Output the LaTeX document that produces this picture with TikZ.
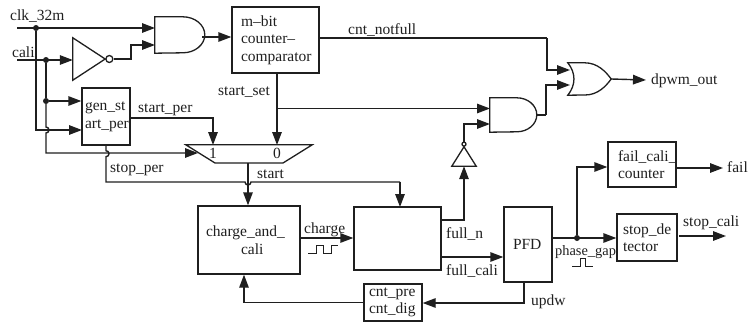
\documentclass[tikz,border=0pt]{standalone}
\usepackage{fontspec}
\setmainfont{Liberation Serif}
\usetikzlibrary{arrows.meta}
\definecolor{ink}{gray}{0.12}
\tikzset{
  x=1pt,y=1pt,
  every node/.style={text=ink,font=\fontsize{15.5}{17.6}\selectfont},
  wire/.style={draw=ink,line width=1.4pt,line join=miter},
  arr/.style={wire,-{Triangle[length=13pt,width=9.5pt]}},
  gate/.style={draw=ink,line width=1.3pt,fill=white},
  lab/.style={anchor=base west,inner sep=0pt},
  dot/.style={circle,fill=ink,inner sep=0pt,minimum size=6pt},
  tbox/.style n args={3}{draw=ink,line width=1.4pt,rectangle,align=left,inner ysep=0pt,
     inner xsep=#3,text width=#1-2*#3,minimum width=#1,minimum height=#2},
  gatebox/.style 2 args={rectangle,inner sep=0pt,minimum width=#1,minimum height=#2},
}
\begin{document}
\begin{tikzpicture}
\useasboundingbox (0,0) rectangle (748,-327);
% boxes
\node[tbox={87pt}{66pt}{9pt}] (cnt) at (275.5,-40) {m–bit\\counter–\\comparator};
\node[tbox={48pt}{57pt}{3pt}] (gen) at (106,-116.5) {gen\_st\\art\_per};
\node[tbox={102pt}{68pt}{8pt},align=left] (chg) at (249,-240) {charge\_and\_\\\hspace*{35pt}cali};
\node[tbox={87pt}{63pt}{5pt}] (mid) at (397.5,-238.5) {};
\node[tbox={48pt}{75pt}{9pt}] (pfd) at (528,-244.5) {PFD};
\node[tbox={58pt}{37pt}{5pt}] (dig) at (393,-302.5) {cnt\_pre\\cnt\_dig};
\node[tbox={68pt}{45pt}{10pt}] (fcc) at (642,-164.5) {fail\_cali\_\\counter};
\node[tbox={60pt}{47pt}{6pt}] (sdt) at (647,-237.5) {stop\_de\\tector};
% gates
\node[gatebox={50pt}{36pt}] (and1) at (180,-35) {};
\node[gatebox={47pt}{34pt}] (and2) at (513.5,-115) {};
\node[gatebox={43pt}{32pt}] (or1) at (589.5,-79) {};
\node[gatebox={126pt}{18pt}] (mux) at (249,-154) {};
\node[gatebox={32pt}{42pt}] (inv1) at (89,-59) {};
\node[gatebox={24pt}{19pt}] (inv2) at (464,-156.5) {};
\draw[gate] (and1.north west) -- ++(28,0) arc[start angle=90,end angle=-90,x radius=22,y radius=18] -- (and1.south west) -- cycle;
\draw[gate] (and2.north west) -- ++(27,0) arc[start angle=90,end angle=-90,x radius=20,y radius=17] -- (and2.south west) -- cycle;
\draw[gate] (or1.north west) -- ++(17,0) .. controls +(13,0) and (606,-72) .. (or1.east) .. controls (606,-86) and (598,-95) .. (585,-95) -- (or1.south west) .. controls (576,-85) and (576,-73) .. (or1.north west) -- cycle;
\draw[gate] (mux.north west) -- (mux.north east) -- (283,-163) -- (215,-163) -- cycle;
\draw[gate] (inv1.north west) -- (inv1.east) -- (inv1.south west) -- cycle;
\node[circle,gate,inner sep=0pt,minimum size=7pt,anchor=west] (b1) at (inv1.east) {};
\draw[gate] (inv2.south west) -- (inv2.north) -- (inv2.south east) -- cycle;
\node[circle,gate,inner sep=0pt,minimum size=4pt,anchor=south] (b2) at (inv2.north) {};
% free ends and branch points
\coordinate (clkin) at (17,-28);
\coordinate (caliin) at (17,-60);
\node[dot] (jclk) at (36,-28) {};
\node[dot] (jcali) at (46,-60) {};
\node[dot] (jgen) at (46,-101) {};
\node[dot] (jph) at (577,-238) {};
\coordinate (a1i1) at (155,-28);
\coordinate (a1i2) at (155,-45);
\coordinate (a2i1) at (490,-108.5);
\coordinate (a2i2) at (490,-124);
\coordinate (oi1) at (570,-70);
\coordinate (oi2) at (570,-85);
\coordinate (m1) at (213,-145);
\coordinate (m0) at (277,-145);
\coordinate (mslant) at (198,-153);
\coordinate (mo) at (248,-163);
\coordinate (dpwm) at (646,-80);
\coordinate (failout) at (723,-168);
\coordinate (stopout) at (726,-236);
% wires
\draw[arr] (clkin) -- (a1i1);
\draw[arr] (caliin) -- (inv1.west |- caliin);
\draw[arr] (b1.east) -- (131,-59) -- (131,-45) -- (a1i2);
\draw[arr] (202,-37) -- (cnt.west |- 0,-37);
\draw[arr] (jcali) -- (jgen) -- (jgen -| gen.west);
\draw[arr] (jclk) -- (36,-130) -- (82,-130);
\draw[arr] (jgen) -- (46,-127) arc[start angle=90,end angle=-90,radius=3] -- (46,-153) -- (mslant);
\draw[arr] (gen.east |- 0,-118) -- (213,-118) -- (m1);
\draw[wire] (gen.south) -- ++(0,-5) arc[start angle=90,end angle=-90,radius=3] -- (106,-182) -- (245,-182) arc[start angle=180,end angle=360,radius=3] -- (400,-182);
\draw[arr] (400,-182) -- (400,-207);
\draw[arr] (mo) -- (mo |- chg.north);
\draw[arr] (cnt.south -| m0) -- (m0);
\draw[arr] (277,-108.5) -- (a2i1);
\draw[wire] (cnt.east |- 0,-38) -- (547,-38);
\draw[arr] (547,-38) -- (547,-70) -- (oi1);
\draw[wire] (and2.east) -- (546,-115);
\draw[arr] (546,-115) -- (546,-85) -- (oi2);
\draw[arr] (or1.east) -- (dpwm);
\draw[arr] (b2.north) -- (464,-124) -- (a2i2);
\draw[arr] (mid.east |- 0,-220) -- (464,-220) -- (inv2.south);
\draw[arr] (mid.east |- 0,-257) -- (pfd.west |- 0,-257);
\draw[arr] (chg.east |- 0,-238) -- (mid.west |- 0,-238);
\draw[arr] (524,-282) -- (524,-303) -- (dig.east |- 0,-303);
\draw[arr] (dig.west) -- (244,-302.5) -- (chg.south -| 244,0);
\draw[arr] (pfd.east |- jph) -- (sdt.west |- jph);
\draw[arr] (jph) -- (577,-167) -- (fcc.west |- 0,-167);
\draw[arr] (fcc.east |- failout) -- (failout);
\draw[arr] (679,-236) -- (stopout);
% pulses
\draw[wire,line width=1pt] (308,-253) -- (316,-253) -- (316,-245) -- (323.5,-245) -- (323.5,-253) -- (331,-253) -- (331,-245) -- (338,-245);
\draw[wire,line width=1pt] (572,-266) -- (580,-266) -- (580,-258) -- (585,-258) -- (585,-266) -- (593,-266);
% labels
\node[lab] (lclk) at (10,-20.5) {clk\_32m};
\node[lab] (lcali) at (12,-57) {cali};
\node[lab] (lsper) at (138,-112.5) {start\_per};
\node[lab] (lstop) at (110,-172.5) {stop\_per};
\node[lab,anchor=base] (l1) at (213,-158) {1};
\node[lab,anchor=base] (l0) at (277,-158) {0};
\node[lab] (lstart) at (257,-178) {start};
\node[lab] (lchg) at (304,-233) {charge};
\node[lab] (lfn) at (446,-238) {full\_n};
\node[lab] (lfc) at (446,-275) {full\_cali};
\node[lab,font=\fontsize{14.4}{16}\selectfont] (lph) at (555,-255) {phase\_gap};
\node[lab] (lfail) at (727,-172) {fail};
\node[lab] (lstc) at (683,-226) {stop\_cali};
\node[lab] (lup) at (531,-305) {updw};
\node[lab] (ldp) at (651,-84) {dpwm\_out};
\node[lab] (lnf) at (348,-34) {cnt\_notfull};
\node[lab] (lset) at (218,-95) {start\_set};
\end{tikzpicture}
\end{document}
